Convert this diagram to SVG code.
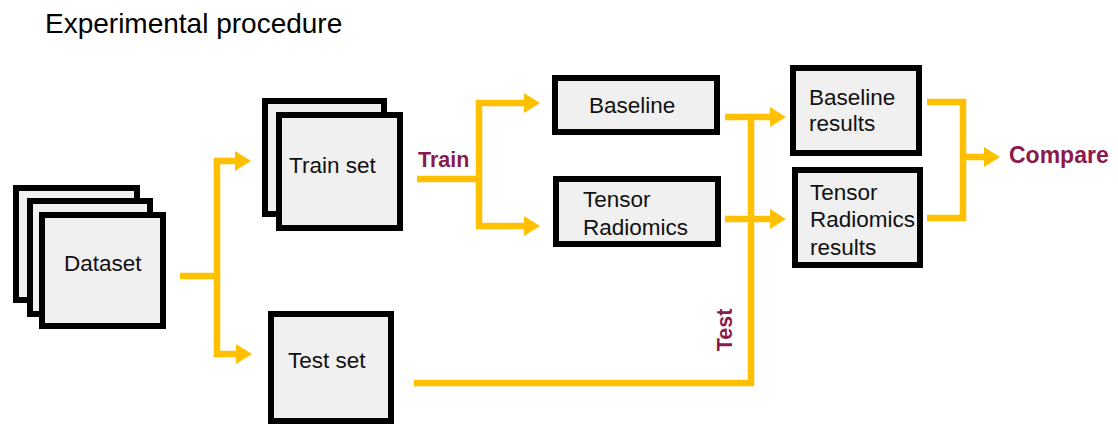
<svg xmlns="http://www.w3.org/2000/svg" width="1118" height="425" viewBox="0 0 1118 425">
<style>
.box{fill:#f0f0f0;stroke:#000;stroke-width:6}
.lbl{font-family:"Liberation Sans",Arial,sans-serif;font-size:22.5px;fill:#111}
.tag{font-family:"Liberation Sans",Arial,sans-serif;font-weight:bold;fill:#8b1a4c}
.ln{fill:none;stroke:#ffc000;stroke-width:6.5;stroke-linejoin:miter}
.arr{marker-end:url(#ah)}
</style>
<defs>
<marker id="ah" markerUnits="userSpaceOnUse" viewBox="0 0 16 20" refX="0" refY="10" markerWidth="16" markerHeight="20" orient="auto">
<path d="M0,0 L16,10 L0,20 z" fill="#ffc000"/>
</marker>
</defs>
<rect width="1118" height="425" fill="#fff"/>
<text x="45" y="33" font-family="Liberation Sans,Arial,sans-serif" font-size="28" fill="#000">Experimental procedure</text>

<g id="connectors">
<path class="ln" d="M180 276 H217"/>
<path class="ln arr" d="M217 276 V161 H235"/>
<path class="ln arr" d="M217 276 V354 H236"/>
<path class="ln" d="M417 179 H479"/>
<path class="ln arr" d="M479 179 V103 H524"/>
<path class="ln arr" d="M479 179 V226 H524"/>
<path class="ln arr" d="M725 117 H770"/>
<path class="ln arr" d="M725 219 H770"/>
<path class="ln" d="M414 383 H751 V117"/>
<path class="ln" d="M927 102 H963 V218 H927"/>
<path class="ln arr" d="M963 157 H984"/>
</g>

<g id="dataset">
<rect class="box" x="16" y="188" width="121" height="112"/>
<rect class="box" x="30" y="201" width="120" height="113"/>
<rect class="box" x="42" y="215" width="121" height="111"/>
<text class="lbl" x="64" y="271">Dataset</text>
</g>

<g id="train-set">
<rect class="box" x="265" y="101" width="119" height="113"/>
<rect class="box" x="279" y="115" width="121" height="113"/>
<text class="lbl" x="289" y="173">Train set</text>
</g>

<g id="test-set">
<rect class="box" x="271" y="314" width="120" height="107"/>
<text class="lbl" x="288" y="368">Test set</text>
</g>

<g id="baseline">
<rect class="box" x="555" y="78" width="162" height="54"/>
<text class="lbl" x="589" y="113">Baseline</text>
</g>

<g id="tensor-radiomics">
<rect class="box" x="556" y="179" width="162" height="65"/>
<text class="lbl" x="583" y="207">Tensor</text>
<text class="lbl" x="583" y="235">Radiomics</text>
</g>

<g id="baseline-results">
<rect class="box" x="793" y="68" width="126" height="85"/>
<text class="lbl" x="809" y="105">Baseline</text>
<text class="lbl" x="809" y="131">results</text>
</g>

<g id="tensor-radiomics-results">
<rect class="box" x="795" y="170" width="125" height="95"/>
<text class="lbl" x="810" y="200">Tensor</text>
<text class="lbl" x="810" y="227">Radiomics</text>
<text class="lbl" x="810" y="255">results</text>
</g>

<g id="labels">
<text class="tag" x="418" y="167" font-size="21.5">Train</text>
<text class="tag" font-size="21.5" text-anchor="middle" transform="translate(732,330) rotate(-90)">Test</text>
<text class="tag" x="1009" y="163" font-size="23">Compare</text>
</g>
</svg>
